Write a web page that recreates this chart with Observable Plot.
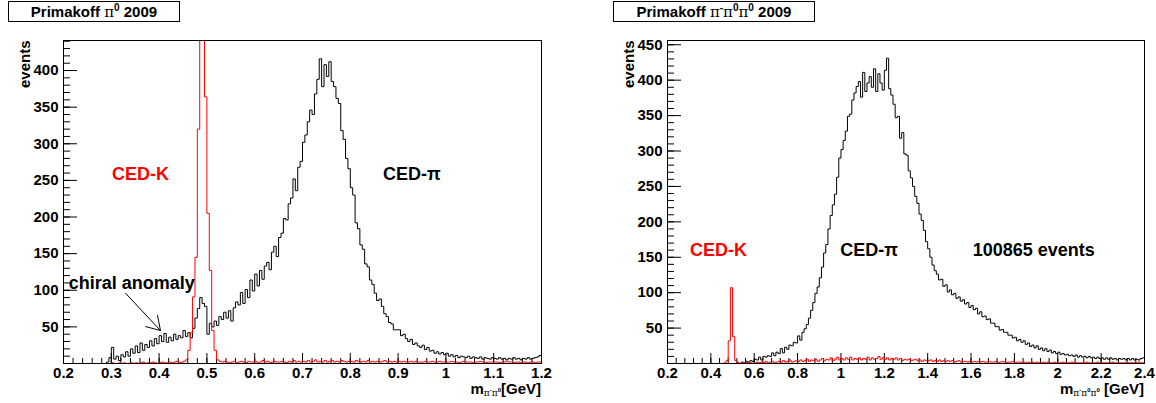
<!DOCTYPE html>
<html><head><meta charset="utf-8">
<script src="https://cdn.jsdelivr.net/npm/d3@7"></script>
<script src="https://cdn.jsdelivr.net/npm/@observablehq/plot@0.6"></script>
<style>
body{margin:0;background:#fff;font-family:"Liberation Sans",Arial,sans-serif;}
#wrap{position:relative;width:1156px;height:403px;overflow:hidden;background:#fff;}
.title{position:absolute;top:1px;height:19px;border:1px solid #000;background:#fff;font-weight:bold;font-size:15px;line-height:20px;text-align:center;z-index:2;white-space:nowrap;}
.sym{font-family:"DejaVu Serif","Liberation Serif",serif;font-weight:normal;}
.title sup{font-size:10px;vertical-align:6px;line-height:0;}
.panel{position:absolute;top:0;}
</style>
</head><body>
<div id="wrap">
  <div class="title" style="left:8px;width:170px">Primakoff <span class="sym">π</span><sup>0</sup> 2009</div>
  <div class="title" style="left:613px;width:200px">Primakoff <span class="sym">π</span><sup>-</sup><span class="sym">π</span><sup>0</sup><span class="sym">π</span><sup>0</sup> 2009</div>
  <div id="p1" class="panel" style="left:0"></div>
  <div id="p2" class="panel" style="left:578px"></div>
</div>
<script>
// ---------- data: left panel (m_{pi- pi0}), bins of 0.005 GeV from 0.2 ----------
const leftStart = 0.2, leftBinWidth = 0.005;
const leftBlack = [
  0,0,0,0,0,0,0,0,0,0,
  0,0,0,0,0,0,0,0,2,8,
  22,6,10,4,12,9,16,10,20,14,
  24,15,28,18,26,22,31,24,34,27,
  38,30,41,29,36,31,40,33,38,35,
  45,37,42,35,48,62,75,90,82,78,
  40,55,50,58,52,64,60,70,62,72,
  58,76,84,80,97,82,101,90,114,99,
  122,106,127,115,133,138,128,152,160,146,
  172,178,198,196,218,226,252,236,268,276,
  302,312,330,346,340,368,388,416,378,408,
  392,412,385,378,362,355,318,306,280,266,
  240,230,192,184,162,156,136,132,114,108,
  96,86,88,78,68,64,56,54,46,46,
  46,38,40,34,30,33,26,28,24,22,
  25,19,22,17,18,14,16,13,15,12,
  14,10,12,9,11,8,10,9,8,10,
  7,9,8,7,9,6,8,7,6,8,
  7,6,8,6,7,5,7,6,8,6,
  7,5,7,6,8,6,7,8,9,11
];
const leftRed = [
  0,0,0,0,0,0,0,0,0,0,
  0,0,0,0,0,0,0,0,0,0,
  1,0,0,1,0,1,0,0,1,0,
  1,0,1,2,0,1,1,2,1,0,
  1,2,1,1,2,1,2,3,2,1,
  3,5,18,42,91,145,320,1200,1500,364,
  205,127,45,18,5,3,2,3,2,1,
  2,3,1,2,3,2,1,3,2,2,
  3,1,2,4,2,3,1,2,3,2,
  2,3,2,1,3,2,4,2,3,2,
  3,2,4,2,3,5,2,3,2,4,
  2,3,4,2,3,2,4,3,2,3,
  3,2,4,3,2,3,2,4,2,3,
  2,3,2,3,4,2,3,2,3,2,
  3,2,3,2,2,3,2,3,2,2,
  2,3,2,2,3,2,2,3,2,2,
  2,2,3,2,2,1,2,3,2,2,
  2,1,2,2,3,2,1,2,2,2,
  2,2,1,2,2,3,2,2,1,2,
  2,1,2,2,1,2,2,1,2,2
];
const leftXDomain = [0.2, 1.2];
const leftYDomain = [0, 441];
const leftXTicks = [0.2,0.3,0.4,0.5,0.6,0.7,0.8,0.9,1.0,1.1,1.2];
const leftYTicks = [50,100,150,200,250,300,350,400];
const leftNotes = [
  {x: 0.361, y: 258, text: "CED-K", color: "#ff0000"},
  {x: 0.929, y: 258, text: "CED-π", color: "#000000"},
  {x: 0.343, y: 110, text: "chiral anomaly", color: "#000000"}
];
const leftArrow = [{x1: 0.3297, y1: 96, x2: 0.4029, y2: 45}];

// ---------- data: right panel (m_{pi- pi0 pi0}), bins of 0.01 GeV from 0.2 ----------
const rightStart = 0.2, rightBinWidth = 0.01;
const rightBlack = [
  0,0,0,0,0,0,0,0,0,0,
  0,0,0,0,0,0,0,0,0,0,
  0,0,0,0,0,0,0,0,0,0,
  0,0,1,0,2,1,3,2,4,3,
  6,5,9,5,10,9,11,10,15,11,
  16,14,21,15,23,20,26,25,30,29,
  39,33,44,49,55,64,75,86,99,108,
  121,136,156,168,190,209,224,239,263,290,
  302,315,328,349,352,372,382,391,398,376,
  411,384,396,405,390,416,384,409,396,386,
  414,431,388,379,366,347,349,318,326,296,
  294,272,262,250,236,226,211,202,188,172,
  162,150,139,131,126,118,119,109,111,101,
  104,97,99,92,94,88,90,84,86,79,
  82,76,78,70,73,66,67,62,63,57,
  57,52,52,47,48,44,44,40,40,36,
  37,32,34,30,32,27,29,24,26,22,
  25,20,22,18,21,17,19,15,17,14,
  16,13,14,12,13,11,12,10,12,9,
  11,9,10,8,10,8,9,7,9,7,
  8,6,8,6,8,6,7,5,7,6,
  7,5,7,5,7,5,6,5,7,8
];
const rightRed = [
  0,0,0,0,0,0,0,0,0,0,
  0,0,0,0,0,0,0,0,0,0,
  0,0,0,0,0,0,1,4,32,107,
  38,4,1,0,1,0,1,2,1,0,
  1,2,1,2,1,3,1,2,3,1,
  2,3,2,4,2,3,5,2,3,4,
  3,5,3,4,6,3,5,4,6,3,
  5,7,4,6,5,8,4,6,9,5,
  7,5,8,6,9,5,7,6,8,5,
  7,6,9,5,8,6,7,10,6,8,
  6,8,5,7,6,8,5,7,4,6,
  5,6,4,5,6,4,5,3,5,4,
  4,5,3,4,3,5,3,4,3,4,
  3,4,2,3,4,2,3,3,2,3,
  2,3,2,3,2,3,2,2,3,2,
  2,3,1,2,3,2,1,2,2,3,
  1,2,2,1,2,1,2,1,2,1,
  2,1,1,2,1,2,1,1,2,1,
  1,1,2,1,1,1,2,1,1,1,
  1,1,1,2,1,1,1,1,2,1,
  1,1,1,1,1,2,1,1,1,1,
  1,1,1,1,1,1,1,2,1,1
];
const rightXDomain = [0.2, 2.4];
const rightYDomain = [0, 456];
const rightXTicks = [0.2,0.4,0.6,0.8,1.0,1.2,1.4,1.6,1.8,2.0,2.2,2.4];
const rightYTicks = [50,100,150,200,250,300,350,400,450];
const rightNotes = [
  {x: 0.435, y: 160, text: "CED-K", color: "#ff0000"},
  {x: 1.13, y: 160, text: "CED-π", color: "#000000"},
  {x: 1.889, y: 160, text: "100865 events", color: "#000000"}
];

// ---------- helpers ----------
function histPoints(start, w, vals) {
  const pts = vals.map((v, i) => ({x: start + i * w, y: v}));
  pts.push({x: start + vals.length * w, y: vals[vals.length - 1]});
  return pts;
}
function minorTicks(domain, step) {
  const n = Math.round((domain[1] - domain[0]) / step);
  return d3.range(n + 1).map(i => +(domain[0] + i * step).toFixed(4));
}

function makePanel(cfg) {
  const W = 578, H = 403, mt = 40, mb = 40;
  const pw = W - cfg.ml - cfg.mr, ph = H - mt - mb;
  const fmt = d3.format("~g");
  const marks = [
    Plot.tickX(minorTicks(cfg.xDomain, cfg.xMinorStep), {x: d => d, insetTop: ph - 5, stroke: "#000", strokeWidth: 1}),
    Plot.tickX(cfg.xTicks, {x: d => d, insetTop: ph - 10, stroke: "#000", strokeWidth: 1}),
    Plot.tickY(minorTicks(cfg.yDomain.map(v => Math.floor(v / 10) * 10), 10), {y: d => d, insetRight: pw - 7, stroke: "#000", strokeWidth: 1}),
    Plot.tickY(cfg.yTicks, {y: d => d, insetRight: pw - 14, stroke: "#000", strokeWidth: 1}),
    Plot.axisX({ticks: cfg.xTicks, tickSize: 0, tickPadding: 4, tickFormat: fmt, fontSize: 15, fontWeight: "bold", label: null}),
    Plot.axisY({ticks: cfg.yTicks, tickSize: 0, tickPadding: 5, tickFormat: fmt, fontSize: 15, fontWeight: "bold", label: null}),
    Plot.line(histPoints(cfg.start, cfg.binWidth, cfg.black), {x: "x", y: "y", curve: "step-after", stroke: "#000", strokeWidth: 1, clip: true}),
    Plot.line(histPoints(cfg.start, cfg.binWidth, cfg.red), {x: "x", y: "y", curve: "step-after", stroke: "#ff0000", strokeWidth: 1, clip: true}),
    Plot.frame({stroke: "#000", strokeWidth: 1}),
    Plot.text(["events"], {frameAnchor: "top-left", rotate: -90, textAnchor: "end", dx: -44, fontSize: 15, fontWeight: "bold"}),
    Plot.text(cfg.notes, {x: "x", y: "y", text: "text", fill: "color", fontSize: 18, fontWeight: "bold", lineAnchor: "middle"})
  ];
  if (cfg.arrow) marks.push(Plot.arrow(cfg.arrow, {x1: "x1", y1: "y1", x2: "x2", y2: "y2", headAngle: 64, headLength: 23, stroke: "#000", strokeWidth: 1}));
  const svg = Plot.plot({
    width: W, height: H,
    marginLeft: cfg.ml, marginRight: cfg.mr, marginTop: mt, marginBottom: mb,
    x: {domain: cfg.xDomain, label: null},
    y: {domain: cfg.yDomain, label: null},
    style: {fontFamily: "'Liberation Sans', Arial, sans-serif", fontSize: "15px", fontWeight: "bold", background: "transparent", overflow: "visible"},
    marks
  });
  // x-axis title with sub/superscripts
  const t = d3.select(svg).append("text")
    .attr("x", W - cfg.mr).attr("y", 394).attr("text-anchor", "end")
    .attr("font-size", 15).attr("font-weight", "bold").attr("fill", "#000");
  t.append("tspan").text("m");
  let dyAcc = 0;
  cfg.sub.forEach(([ch, sup]) => {
    t.append("tspan").attr("dy", 2 - dyAcc).attr("font-size", 9).attr("font-family", "'DejaVu Serif', serif").attr("font-weight", "normal").text(ch);
    t.append("tspan").attr("dy", -4).attr("font-size", 6).text(sup);
    dyAcc = -2;
  });
  t.append("tspan").attr("dy", 2).text(cfg.unitSpace + "[GeV]");
  return svg;
}

document.getElementById("p1").append(makePanel({
  ml: 63, mr: 37, xDomain: leftXDomain, yDomain: leftYDomain,
  xTicks: leftXTicks, yTicks: leftYTicks, xMinorStep: 0.02,
  start: leftStart, binWidth: leftBinWidth, black: leftBlack, red: leftRed,
  notes: leftNotes, arrow: leftArrow,
  sub: [["π", "-"], ["π", "0"]], unitSpace: ""
}));
document.getElementById("p2").append(makePanel({
  ml: 89, mr: 12, xDomain: rightXDomain, yDomain: rightYDomain,
  xTicks: rightXTicks, yTicks: rightYTicks, xMinorStep: 0.04,
  start: rightStart, binWidth: rightBinWidth, black: rightBlack, red: rightRed,
  notes: rightNotes, arrow: null,
  sub: [["π", "-"], ["π", "0"], ["π", "0"]], unitSpace: " "
}));
</script>
</body></html>
